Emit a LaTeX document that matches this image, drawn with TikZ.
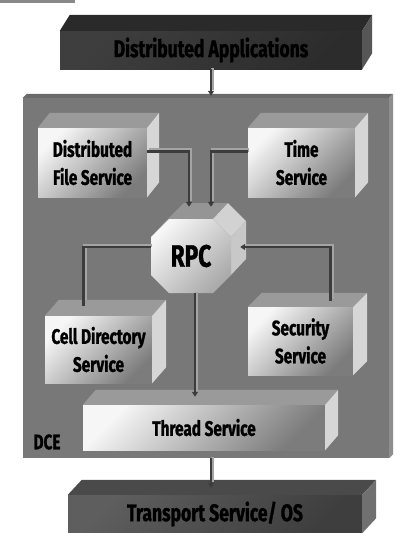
\documentclass[tikz,border=0pt]{standalone}
\usepackage{fontspec}
\usetikzlibrary{calc,arrows.meta}
\newfontfamily\lab{Fira Sans}[FakeStretch=0.73, BoldFeatures={FakeBold=1.2}]
\definecolor{dcefront}{HTML}{787878}
\definecolor{dcetop}{HTML}{6A6A6A}
\definecolor{dceside}{HTML}{8E8E8E}
\definecolor{svctop}{HTML}{9A9A9A}
\definecolor{svcside}{HTML}{D6D6D6}
\definecolor{svclight}{HTML}{F6F6F6}
\definecolor{svcdark}{HTML}{7C7C7C}
\definecolor{datop}{HTML}{2A2A2A}
\definecolor{daside}{HTML}{565656}
\definecolor{dalight}{HTML}{3E3E3E}
\definecolor{dadark}{HTML}{2C2C2C}
\definecolor{tstop}{HTML}{4A4A4A}
\definecolor{tsside}{HTML}{707070}
\definecolor{tslight}{HTML}{5E5E5E}
\definecolor{tsdark}{HTML}{3E3E3E}
\definecolor{pipedark}{HTML}{3C3C3C}
\definecolor{pipelight}{HTML}{A4A4A4}
\definecolor{stripe}{HTML}{888888}
\definecolor{rpctop}{HTML}{959595}
\definecolor{rpcnw}{HTML}{A8A8A8}
\definecolor{rpcne}{HTML}{D2D2D2}
\definecolor{rpce}{HTML}{C8C8C8}
\definecolor{rpcdark}{HTML}{ABABAB}
\newcommand{\boxfaces}[5]{%
  \fill[#4] (#1.north west) -- ++(#2,#3) -- ($(#1.north east)+(#2,#3)$) -- (#1.north east) -- cycle;
  \fill[#5] (#1.north east) -- ++(#2,#3) -- ($(#1.south east)+(#2,#3)$) -- (#1.south east) -- cycle;
}
\begin{document}
\begin{tikzpicture}[x=1pt,y=-1pt,
  lbl/.style={font=\lab\bfseries\fontsize{21}{28}\selectfont, text=black, align=center},
  front/.style={inner sep=0pt, lbl},
  svc/.style={front, top color=svclight, bottom color=svcdark, shading angle=45},
  dark/.style={front, font=\lab\bfseries\fontsize{24}{26}\selectfont, top color=dalight, bottom color=dadark, shading angle=45},
  tsp/.style={front, font=\lab\bfseries\fontsize{24}{26}\selectfont, top color=tslight, bottom color=tsdark, shading angle=45},
  pipe/.style={line width=2.2pt, draw=pipedark,
     preaction={draw=pipelight, line width=3.4pt, arrows={-}, shorten >=4pt,
                transform canvas={xshift=1.5pt,yshift=1.5pt}}},
  tip/.style={-{Triangle[length=5pt,width=6pt]}},
]
\useasboundingbox (0,0) rectangle (394,533);
\fill[white] (0,0) rectangle (394,533);
\fill[stripe] (0,0) rectangle (75,3);

% Distributed Applications
\node[dark, minimum width=302pt, minimum height=38pt] (da) at (211,50) {Distributed Applications};
\boxfaces{da}{10}{-16}{datop}{daside}

% DCE container
\node[front, fill=dcefront, minimum width=366pt, minimum height=360pt] (dce) at (206,278) {};
\boxfaces{dce}{4}{-4}{dcetop}{dceside}
\node[lbl, inner sep=0pt] (dcel) at (47,442) {DCE};

% services
\node[svc, minimum width=109pt, minimum height=69pt] (dfs) at (92.5,162.5) {Distributed\\File Service};
\boxfaces{dfs}{12}{-15}{svctop}{svcside}
\node[svc, minimum width=107pt, minimum height=69pt] (time) at (301.5,162.5) {Time\\Service};
\boxfaces{time}{13}{-15}{svctop}{svcside}
\node[svc, minimum width=107pt, minimum height=67pt] (cell) at (98.5,349.5) {Cell Directory\\Service};
\boxfaces{cell}{14}{-16}{svctop}{svcside}
\node[svc, minimum width=105pt, minimum height=68pt] (sec) at (300.5,341) {Security\\Service};
\boxfaces{sec}{14}{-14}{svctop}{svcside}
\node[svc, minimum width=242pt, minimum height=45pt] (thread) at (204,427.5) {Thread Service};
\boxfaces{thread}{13}{-15}{svctop}{svcside}

% Transport
\node[tsp, minimum width=294pt, minimum height=38pt] (tos) at (215,514) {Transport Service/ OS};
\boxfaces{tos}{14}{-15}{tstop}{tsside}

% RPC octagon
\fill[rpcnw] (151,237) -- (169,219) -- (184,203) -- (166,221) -- cycle;
\fill[rpctop] (169,219) -- (213,219) -- (228,203) -- (184,203) -- cycle;
\fill[rpcne] (213,219) -- (231,237) -- (246,221) -- (228,203) -- cycle;
\fill[rpce] (231,237) -- (231,275) -- (246,259) -- (246,221) -- cycle;
\shade[top color=svclight, bottom color=rpcdark, shading angle=45]
  (169,219) -- (213,219) -- (231,237) -- (231,275) -- (213,293) -- (169,293) -- (151,275) -- (151,237) -- cycle;
\node[inner sep=0pt, minimum width=80pt, minimum height=74pt,
      font=\lab\bfseries\fontsize{31}{31}\selectfont] (rpc) at (191,256) {RPC};

% connectors
\coordinate (dcetop) at ($(dce.north)+(0,-2)$);
\coordinate (tostop) at ($(tos.north)+(0,-7)$);
\coordinate (tt) at ($(thread.north)+(0,-8)$);
\coordinate (r6) at ($(rpc.south)+(4,0)$);
\draw[pipe, tip] (da.south) -- (da.south |- dcetop);
\draw[pipe, tip] (da.south |- dce.south) -- (da.south |- tostop);
\draw[pipe, tip] ($(dfs.east)+(0,-11)$) -| ($(rpc.north)+(-2,-12)$);
\draw[pipe, tip] ($(time.west)+(0,-11)$) -| ($(rpc.north)+(20,-12)$);
\draw[pipe] ($(rpc.west)+(0,-9)$) -| ($(cell.north)+(-15,-10)$);
\draw[pipe, tip] ($(sec.north)+(30,-6)$) |- ($(rpc.east)+(9,-9)$);
\draw[pipe, tip] (r6) -- (r6 |- tt);
\end{tikzpicture}
\end{document}
